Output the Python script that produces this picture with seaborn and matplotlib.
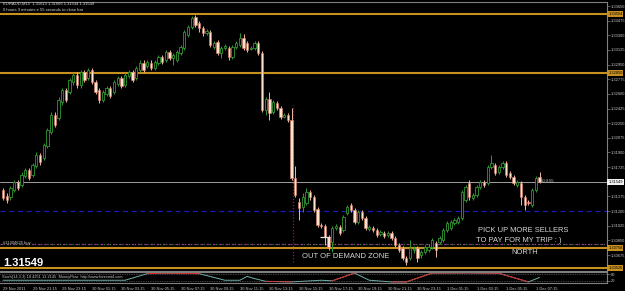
import numpy as np
import matplotlib
matplotlib.use('Agg')
import matplotlib.pyplot as plt
import matplotlib.transforms as mtrans
import seaborn as sns

sns.set_style('dark')
plt.rcParams['font.family'] = ['Liberation Sans', 'DejaVu Sans']

# ---------------- data (EURAUD M15) ----------------
opens = [1.3145,1.3138,1.3137,1.3145,1.3155,1.3151,1.3162,1.3169,1.3163,1.3174,
         1.3187,1.3183,1.3198,1.3214,1.3235,1.3231,1.3250,1.3265,1.3262,1.3274,
         1.3283,1.3271,1.3286,1.3279,1.3289,1.3274,1.3265,1.3253,1.3260,1.3267,
         1.3262,1.3272,1.3279,1.3271,1.3281,1.3286,1.3279,1.3289,1.3297,1.3293,
         1.3297,1.3291,1.3297,1.3304,1.3300,1.3310,1.3303,1.3300,1.3309,1.3315,
         1.3330,1.3340,1.3352,1.3345,1.3339,1.3333,1.3334,1.3316,1.3322,1.3309,
         1.3315,1.3315,1.3304,1.3316,1.3318,1.3327,1.3321,1.3314,1.3315,1.3321,
         1.3309,1.3241,1.3254,1.3238,1.3249,1.3243,1.3232,1.3235,1.3229,1.3160,
         1.3131,1.3125,1.3130,1.3143,1.3137,1.3122,1.3103,1.3102,1.3089,1.3083,
         1.3100,1.3101,1.3097,1.3118,1.3127,1.3121,1.3107,1.3119,1.3112,1.3099,
         1.3100,1.3097,1.3093,1.3094,1.3091,1.3094,1.3088,1.3079,1.3076,1.3064,
         1.3064,1.3073,1.3076,1.3067,1.3071,1.3073,1.3077,1.3082,1.3083,1.3085,
         1.3097,1.3100,1.3106,1.3107,1.3112,1.3133,1.3154,1.3136,1.3139,1.3149,
         1.3155,1.3154,1.3173,1.3175,1.3167,1.3173,1.3177,1.3165,1.3161,1.3151,
         1.3154,1.3137,1.3131,1.3127,1.3145,1.31613]
highs = [1.3147,1.3142,1.3150,1.3157,1.3157,1.3167,1.3171,1.3171,1.3177,1.3191,
         1.3189,1.3201,1.3219,1.3238,1.3238,1.3256,1.3267,1.3267,1.3279,1.3285,
         1.3286,1.3289,1.3289,1.3291,1.3291,1.3277,1.3267,1.3265,1.3269,1.3269,
         1.3277,1.3281,1.3281,1.3285,1.3289,1.3289,1.3293,1.3300,1.3300,1.3300,
         1.3300,1.3300,1.3306,1.3306,1.3312,1.3312,1.3309,1.3312,1.3318,1.3336,
         1.3342,1.3353,1.3354,1.3347,1.3341,1.3338,1.3336,1.3323,1.3324,1.3317,
         1.3320,1.3317,1.3318,1.3323,1.3333,1.3332,1.3323,1.3317,1.3323,1.3323,
         1.3311,1.3256,1.3262,1.3253,1.3252,1.3246,1.3237,1.3237,1.3243,1.3174,
         1.3136,1.3142,1.3147,1.3145,1.3139,1.3125,1.3106,1.3104,1.3091,1.3102,
         1.3104,1.3103,1.3115,1.3127,1.3130,1.3124,1.3121,1.3121,1.3114,1.3103,
         1.3102,1.3100,1.3097,1.3096,1.3096,1.3096,1.3090,1.3082,1.3078,1.3066,
         1.3085,1.3078,1.3078,1.3073,1.3079,1.3081,1.3088,1.3084,1.3090,1.3100,
         1.3108,1.3109,1.3112,1.3114,1.3145,1.3151,1.3157,1.3142,1.3151,1.3157,
         1.3157,1.3175,1.3187,1.3177,1.3175,1.3180,1.3180,1.3168,1.3163,1.3157,
         1.3156,1.3139,1.3133,1.3147,1.3162,1.31666]
lows = [1.3133,1.3130,1.3133,1.3143,1.3145,1.3149,1.3160,1.3157,1.3161,1.3171,
        1.3175,1.3181,1.3195,1.3212,1.3220,1.3229,1.3247,1.3250,1.3260,1.3271,
        1.3267,1.3267,1.3274,1.3277,1.3272,1.3260,1.3249,1.3250,1.3258,1.3255,
        1.3260,1.3269,1.3267,1.3268,1.3279,1.3274,1.3277,1.3286,1.3286,1.3291,
        1.3289,1.3289,1.3294,1.3296,1.3298,1.3300,1.3294,1.3298,1.3306,1.3312,
        1.3328,1.3338,1.3340,1.3334,1.3329,1.3330,1.3316,1.3314,1.3306,1.3303,
        1.3312,1.3300,1.3302,1.3314,1.3316,1.3312,1.3310,1.3312,1.3312,1.3306,
        1.3238,1.3235,1.3229,1.3236,1.3241,1.3230,1.3231,1.3226,1.3157,1.3137,
        1.3109,1.3119,1.3127,1.3133,1.3119,1.3101,1.3100,1.3079,1.3073,1.3071,
        1.3097,1.3091,1.3095,1.3115,1.3119,1.3104,1.3104,1.3109,1.3097,1.3096,
        1.3095,1.3089,1.3090,1.3088,1.3089,1.3085,1.3077,1.3071,1.3061,1.3056,
        1.3061,1.3070,1.3059,1.3064,1.3069,1.3071,1.3075,1.3065,1.3081,1.3083,
        1.3095,1.3097,1.3103,1.3104,1.3109,1.3131,1.3133,1.3133,1.3137,1.3146,
        1.3149,1.3151,1.3170,1.3163,1.3164,1.3170,1.3161,1.3158,1.3151,1.3149,
        1.3127,1.3121,1.3127,1.3125,1.3143,1.31534]
closes = [1.3136,1.3133,1.3147,1.3155,1.3147,1.3163,1.3169,1.3160,1.3175,1.3187,
          1.3179,1.3199,1.3217,1.3235,1.3223,1.3253,1.3265,1.3253,1.3277,1.3283,
          1.3271,1.3286,1.3277,1.3289,1.3274,1.3262,1.3253,1.3262,1.3267,1.3258,
          1.3274,1.3279,1.3269,1.3283,1.3286,1.3277,1.3291,1.3297,1.3289,1.3298,
          1.3291,1.3298,1.3304,1.3298,1.3310,1.3303,1.3306,1.3310,1.3316,1.3334,
          1.3340,1.3351,1.3342,1.3339,1.3333,1.3335,1.3318,1.3321,1.3309,1.3315,
          1.3317,1.3304,1.3316,1.3321,1.3327,1.3315,1.3312,1.3315,1.3321,1.3309,
          1.3241,1.3254,1.3237,1.3250,1.3243,1.3232,1.3235,1.3229,1.3160,1.3139,
          1.3124,1.3137,1.3143,1.3137,1.3121,1.3103,1.3102,1.3089,1.3077,1.3100,
          1.3102,1.3094,1.3113,1.3125,1.3121,1.3107,1.3119,1.3112,1.3100,1.3101,
          1.3097,1.3091,1.3095,1.3090,1.3094,1.3088,1.3079,1.3073,1.3064,1.3059,
          1.3076,1.3075,1.3064,1.3071,1.3077,1.3077,1.3085,1.3073,1.3088,1.3097,
          1.3106,1.3107,1.3109,1.3112,1.3143,1.3149,1.3137,1.3139,1.3149,1.3155,
          1.3151,1.3173,1.3177,1.3165,1.3173,1.3177,1.3163,1.3161,1.3154,1.3155,
          1.3137,1.3127,1.3130,1.3145,1.3160,1.31549]

ytick_values = [1.33650, 1.33475, 1.33300, 1.33125, 1.32950, 1.32775,
                1.32600, 1.32425, 1.32250, 1.32075, 1.31900, 1.31725,
                1.31550, 1.31375, 1.31200, 1.31025, 1.30850, 1.30675]
# the 1.31550 label sits under the current-price box, as in the screenshot
ytick_labels = ["1.33650", "1.33475", "1.33300", "1.33125", "1.32950", "1.32775",
                "1.32600", "1.32425", "1.32250", "1.32075", "1.31900", "1.31725",
                "", "1.31375", "1.31200", "1.31025", "1.30850", "1.30675"]
xtick_labels = ["29 Nov 2011", "29 Nov 21:15", "29 Nov 23:15", "30 Nov 01:15",
                "30 Nov 03:15", "30 Nov 05:15", "30 Nov 07:15", "30 Nov 09:15",
                "30 Nov 11:15", "30 Nov 13:15", "30 Nov 15:15", "30 Nov 17:15",
                "30 Nov 19:15", "30 Nov 21:15", "30 Nov 23:15", "1 Dec 01:15",
                "1 Dec 03:15", "1 Dec 05:15", "1 Dec 07:15"]
xtick_bars = [0, 8, 16, 24, 32, 40, 48, 56, 64, 72, 80, 88, 96, 104, 112, 120,
              128, 136, 144]

zone_levels = [1.33554, 1.32850, 1.30758, 1.30520]
zone_labels = ["1.33554", "1.32850", "1.30758", "1.30520"]
current_price = 1.31549
target_level = 1.31200
order_level = 1.30806
marker_price = 1.3089
separator_bar = 78
separator_range = (1.3059, 1.3247)

ind_bars = [0, 11, 33, 39, 44, 53, 60, 64, 66, 68, 71, 78, 86, 89, 95, 99,
            105, 109, 116, 126, 134, 142, 145]
ind_vals = [25, 25, 25, 85, 90, 85, 25, 25, 60, 40, 15, 10, 25, 20, 90, 25,
            10, 10, 90, 92, 88, 10, 50]

# ---------------- figure ----------------
W, H = 625, 291
fig = plt.figure(figsize=(W / 100, H / 100), dpi=100, facecolor='black')

def fx(px):
    return px / W

def fy(py):
    return 1 - py / H

GRID = '#808080'
TXT = '#c8c8c8'
AXFS = 2.9

ax = fig.add_axes([0, fy(271), fx(607), (271 - 2) / H])
ax.set_facecolor('black')
ax_ind = fig.add_axes([0, fy(283), fx(607), (283 - 272) / H])
ax_ind.set_facecolor('black')

xlim = (-3 / 3.7, 604 / 3.7)
ax.set_xlim(*xlim)
ax.set_ylim(1.30484, 1.33698)

O = np.array(opens); Hh = np.array(highs); L = np.array(lows); C = np.array(closes)
idx = np.arange(len(O))
bull = C >= O
bear = ~bull
GREEN = '#2f9a2f'
PEACH = '#ffe2cc'
PEACH_EDGE = '#e07a66'

ax.vlines(idx[bull], L[bull], Hh[bull], color=GREEN, lw=0.7, zorder=3)
ax.vlines(idx[bear], L[bear], Hh[bear], color='#f0b8a4', lw=0.7, zorder=3)
ax.bar(idx[bull], np.maximum(C[bull] - O[bull], 0.00003), bottom=O[bull],
       width=0.62, facecolor='black', edgecolor=GREEN, lw=0.6, zorder=4)
ax.bar(idx[bear], np.maximum(O[bear] - C[bear], 0.00003), bottom=C[bear],
       width=0.62, facecolor=PEACH, edgecolor=PEACH_EDGE, lw=0.4, zorder=4)

# horizontal levels
for lv in zone_levels:
    ax.axhline(lv, color='#c8901e', lw=1.5, zorder=2)
ax.axhline(current_price, color='#a0a0a0', lw=0.7, zorder=1)
ax.axhline(target_level, color='#1c1cb8', lw=0.9, ls=(0, (4, 3)), zorder=1)
ax.axhline(order_level, color='#8c3c8c', lw=0.9, ls=(0, (2, 3)), zorder=1)
ax.axhline(order_level, color='#3c8a3c', lw=0.9, ls=(2.5, (1, 4)), zorder=1)
ax.vlines(separator_bar + 0.25, separator_range[0], separator_range[1],
          color='#a01050', lw=0.9, ls=(0, (1, 1.5)), zorder=2)
ax.hlines(marker_price, 85.6, 88.4, color='#e0e0e0', lw=0.9, zorder=6)

# spines
for s in ['top', 'right', 'bottom']:
    ax.spines[s].set_color(GRID)
    ax.spines[s].set_linewidth(0.8)
ax.spines['left'].set_visible(False)
ax.grid(False)

ax.yaxis.tick_right()
ax.set_yticks(ytick_values)
ax.set_yticklabels(ytick_labels)
ax.tick_params(axis='y', colors=GRID, labelcolor=TXT, labelsize=AXFS, length=2,
               width=0.5, pad=0.6)
ax.set_xticks([])

trans = mtrans.blended_transform_factory(ax.transAxes, ax.transData)
for lv, lab in zip(zone_levels, zone_labels):
    ax.text(1.002, lv, lab, transform=trans, fontsize=AXFS, color='black',
            va='center', ha='left', clip_on=False, zorder=10,
            bbox=dict(facecolor='#c8901e', edgecolor='none', pad=0.6))
ax.text(1.002, current_price, "1.31549", transform=trans, fontsize=AXFS,
        color='black', va='center', ha='left', clip_on=False, zorder=10,
        bbox=dict(facecolor='#f0f0f0', edgecolor='none', pad=0.6))

# indicator panel
ax_ind.set_xlim(*xlim)
ax_ind.set_ylim(0, 100)
sns.lineplot(x=ind_bars, y=ind_vals, ax=ax_ind, color='#6fb0a8', lw=0.7)
iv = np.array(ind_vals, dtype=float)
red = np.ma.masked_where((iv < 80) & (iv > 20), iv)
ax_ind.plot(ind_bars, red, color='#e02020', lw=0.7)
ax_ind.axhline(80, color=GRID, lw=0.5, ls=(0, (1, 1.5)))
ax_ind.axhline(20, color=GRID, lw=0.5, ls=(0, (1, 1.5)))
for s in ['top', 'right', 'bottom']:
    ax_ind.spines[s].set_color(GRID)
    ax_ind.spines[s].set_linewidth(0.8)
ax_ind.spines['left'].set_visible(False)
ax_ind.grid(False)
ax_ind.set_ylabel('')
ax_ind.yaxis.tick_right()
ax_ind.set_yticks([80, 20])
ax_ind.set_yticklabels(["80", "20"])
ax_ind.tick_params(axis='y', colors=GRID, labelcolor=TXT, labelsize=AXFS,
                   length=2, width=0.5, pad=0.6)
ax_ind.set_xticks(xtick_bars)
ax_ind.set_xticklabels(xtick_labels)
ax_ind.tick_params(axis='x', colors=GRID, labelcolor=TXT, labelsize=2.9,
                   length=2, width=0.5, pad=0.8)
for lab in ax_ind.get_xticklabels():
    lab.set_ha('left')
ax_ind.text(0.004, 0.55, "Stoch(14,3,3) 18.4251 13.2145  MoneyFlow  http://www.forexmt4.com",
            transform=ax_ind.transAxes, fontsize=2.8, color=TXT, va='center')

# texts
fig.text(fx(3), fy(4), "EURAUD,M15  1.31613 1.31666 1.31534 1.31549",
         fontsize=3.0, color='#d8d8d8', va='center')
fig.text(fx(3), fy(10), "0 hours 3 minutes e 55 seconds to close bar",
         fontsize=3.0, color='#d8d8d8', va='center')
fig.text(fx(3), fy(243), "#11304625 buy", fontsize=3.0, color=TXT, va='center')
fig.text(fx(541), fy(181), "<0:3:55", fontsize=3.0, color=TXT, va='center')
fig.text(fx(3), fy(263), "1.31549", fontsize=8, weight='bold', color='white',
         va='center')
fig.text(fx(302), fy(256), "OUT OF DEMAND ZONE", fontsize=5.5, color='#d8d8d8',
         va='center')
fig.text(fx(478), fy(231), "PICK UP MORE SELLERS", fontsize=5.4, color='#d8d8d8',
         va='center')
fig.text(fx(476), fy(241), "TO PAY FOR MY TRIP : )", fontsize=5.4,
         color='#d8d8d8', va='center')
fig.text(fx(511), fy(253), "NORTH", fontsize=5.4, color='#d8d8d8', va='center')

fig.savefig('out.png', dpi=100, facecolor='black')
